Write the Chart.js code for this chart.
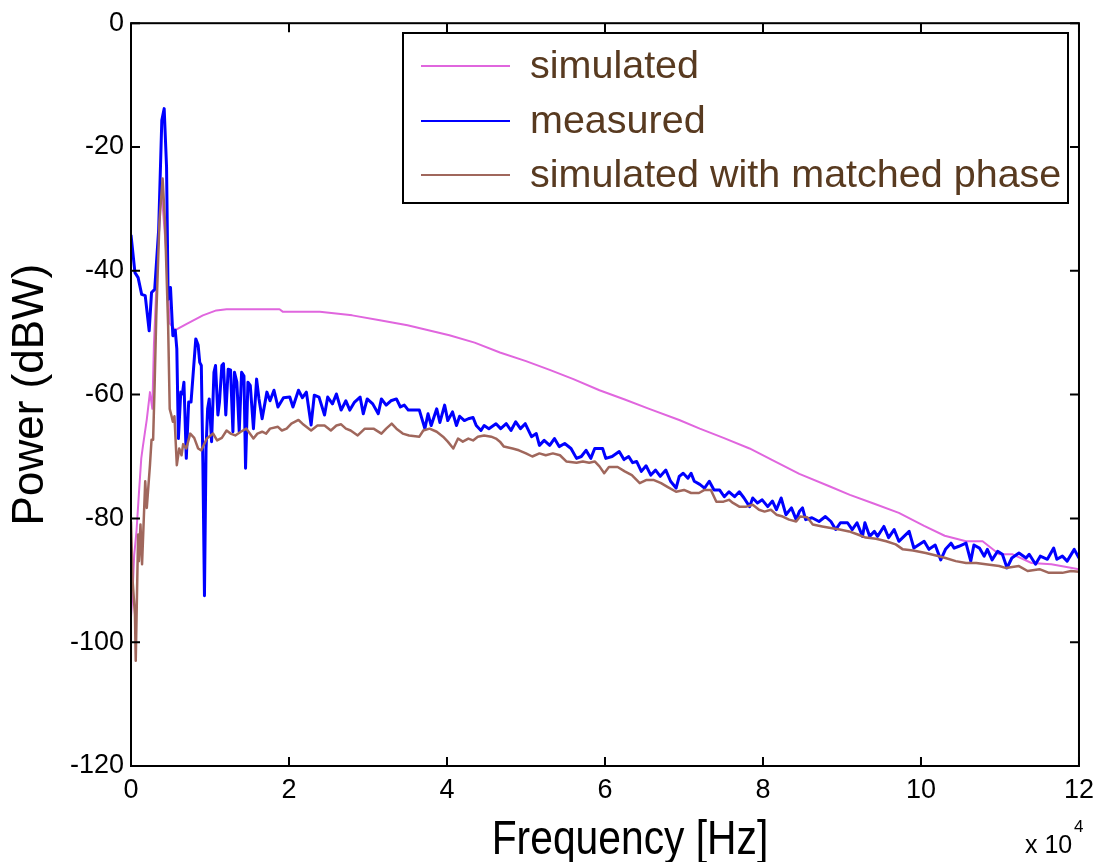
<!DOCTYPE html>
<html>
<head>
<meta charset="utf-8">
<script src="https://cdn.jsdelivr.net/npm/chart.js@4.4.1/dist/chart.umd.min.js"></script>
<style>
  html, body { margin: 0; padding: 0; background: #fff; }
  #wrap { width: 1102px; height: 862px; }
</style>
</head>
<body>
<div id="wrap"><canvas id="chart" width="1102" height="862"></canvas></div>
<script>
// frequency in units of 1e4 Hz, power in dBW
const simX = [0.00, 0.02, 0.04, 0.07, 0.10, 0.13, 0.15, 0.20, 0.24, 0.27, 0.29, 0.33, 0.38, 0.44, 0.49,
  0.56, 0.70, 0.91, 1.08, 1.21, 1.88, 1.92, 2.39, 2.80, 3.15, 3.50, 4.03, 4.35, 4.67, 5.00,
  5.30, 5.60, 5.93, 6.25, 6.56, 6.94, 7.20, 7.50, 7.83, 8.15, 8.46, 8.84, 9.10, 9.40, 9.72,
  10.04, 10.30, 10.57, 10.78, 10.99, 11.16, 11.40, 11.65, 12.00];
const simY = [-96, -92, -86, -82, -76, -70.3, -68.4, -64, -59.6, -62.3, -52, -40, -26, -36, -48.5,
  -49.6, -48.6, -47.2, -46.4, -46.2, -46.2, -46.6, -46.6, -47.2, -48.0, -48.8, -50.4, -51.6, -53.2, -54.6,
  -56.0, -57.5, -59.3, -60.8, -62.3, -64.1, -65.5, -67.0, -68.7, -70.8, -72.8, -74.8, -76.2, -77.6, -79.1,
  -81.2, -82.8, -83.7, -83.7, -85.8, -85.8, -87.2, -87.4, -88.2];

const measX = [0.00, 0.05, 0.09, 0.135, 0.18, 0.23, 0.26, 0.30, 0.35, 0.39, 0.42, 0.45, 0.47, 0.50, 0.53,
  0.56, 0.58, 0.60, 0.63, 0.65, 0.67, 0.70, 0.73, 0.76, 0.82, 0.85, 0.87, 0.89, 0.91, 0.93,
  0.95, 0.97, 0.99, 1.02, 1.05, 1.07, 1.10, 1.12, 1.15, 1.17, 1.20, 1.23, 1.26, 1.29, 1.31,
  1.34, 1.37, 1.40, 1.43, 1.45, 1.48, 1.51, 1.55, 1.59, 1.62, 1.66, 1.72, 1.76, 1.81, 1.86,
  1.93, 2.01, 2.05, 2.12, 2.17, 2.22, 2.28, 2.32, 2.38, 2.45, 2.49, 2.55, 2.60, 2.66, 2.72,
  2.77, 2.83, 2.90, 2.94, 2.99, 3.06, 3.13, 3.17, 3.23, 3.29, 3.36, 3.41, 3.46, 3.51, 3.65,
  3.72, 3.76, 3.80, 3.87, 3.91, 3.97, 4.01, 4.07, 4.12, 4.16, 4.22, 4.27, 4.33, 4.37, 4.43,
  4.47, 4.53, 4.62, 4.68, 4.75, 4.81, 4.87, 4.93, 4.99, 5.07, 5.13, 5.17, 5.23, 5.30, 5.36,
  5.42, 5.49, 5.57, 5.64, 5.70, 5.76, 5.82, 5.87, 5.97, 6.01, 6.09, 6.18, 6.24, 6.30, 6.35,
  6.40, 6.46, 6.52, 6.58, 6.64, 6.70, 6.77, 6.83, 6.90, 6.94, 6.99, 7.05, 7.09, 7.13, 7.20,
  7.26, 7.32, 7.38, 7.45, 7.51, 7.57, 7.64, 7.70, 7.76, 7.83, 7.87, 7.93, 7.99, 8.06, 8.12,
  8.17, 8.23, 8.29, 8.36, 8.42, 8.46, 8.50, 8.54, 8.62, 8.71, 8.79, 8.86, 8.92, 8.98, 9.07,
  9.13, 9.19, 9.26, 9.29, 9.35, 9.41, 9.45, 9.53, 9.59, 9.66, 9.72, 9.85, 9.91, 10.04, 10.10,
  10.18, 10.25, 10.31, 10.38, 10.42, 10.48, 10.57, 10.63, 10.67, 10.74, 10.80, 10.84, 10.90, 10.97, 11.03,
  11.09, 11.15, 11.24, 11.33, 11.37, 11.45, 11.51, 11.60, 11.68, 11.72, 11.79, 11.85, 11.94, 12.00];
const measY = [-34.2, -40.3, -41.1, -43.8, -44.0, -49.7, -43.5, -43.0, -33.4, -15.7, -13.8, -23.2, -44.6, -42.7, -50.5,
  -49.6, -52.6, -67.1, -59.6, -59.9, -58.0, -70.3, -61.2, -61.2, -51.0, -52.0, -54.8, -55.3, -71.3, -92.5,
  -68.7, -62.3, -60.7, -67.6, -56.4, -55.3, -63.3, -61.2, -55.3, -55.0, -63.3, -55.9, -56.0, -66.0, -56.4,
  -58.0, -66.0, -56.4, -57.0, -71.9, -58.0, -58.5, -65.5, -57.5, -60.7, -63.9, -59.6, -61.0, -59.3, -62.0,
  -60.5, -60.4, -62.0, -59.3, -60.5, -59.6, -64.9, -60.1, -60.4, -63.3, -60.4, -61.5, -59.9, -62.5, -61.0,
  -62.5, -61.2, -60.4, -63.1, -60.7, -61.5, -63.1, -60.7, -61.7, -61.0, -60.7, -62.0, -61.7, -62.5, -62.5,
  -65.5, -63.1, -65.0, -62.3, -64.5, -61.7, -64.2, -62.8, -65.0, -63.5, -64.2, -63.9, -63.7, -65.0, -65.8,
  -65.0, -65.5, -64.7, -65.5, -64.7, -65.8, -64.4, -65.5, -64.7, -66.8, -66.3, -68.2, -67.4, -68.2, -67.1,
  -68.4, -67.9, -68.7, -70.3, -70.0, -69.0, -70.3, -68.7, -68.7, -70.3, -70.0, -69.2, -70.5, -70.0, -71.0,
  -70.8, -72.4, -71.5, -73.0, -72.2, -73.2, -72.2, -74.0, -75.1, -73.2, -72.7, -73.5, -72.7, -74.0, -74.5,
  -75.1, -74.0, -75.4, -75.4, -76.5, -75.7, -76.5, -75.7, -76.7, -78.1, -76.7, -77.5, -77.0, -78.1, -77.2,
  -78.6, -76.7, -79.4, -78.3, -80.2, -78.9, -78.3, -80.2, -79.9, -80.5, -79.7, -80.5, -81.8, -80.7, -80.7,
  -81.8, -80.7, -82.9, -80.7, -82.9, -82.1, -82.9, -81.3, -83.1, -81.8, -83.7, -82.1, -84.8, -83.7, -85.0,
  -84.3, -86.7, -85.0, -84.0, -84.8, -84.5, -84.0, -86.9, -84.3, -84.8, -86.1, -85.0, -86.7, -85.3, -85.8,
  -88.0, -86.4, -85.6, -86.4, -85.8, -87.4, -86.1, -86.6, -84.8, -86.6, -86.1, -86.9, -85.0, -86.4];

const matchX = [0.00, 0.02, 0.05, 0.06, 0.09, 0.10, 0.12, 0.14, 0.18, 0.20, 0.24, 0.26, 0.28, 0.30, 0.32,
  0.36, 0.40, 0.43, 0.47, 0.49, 0.51, 0.53, 0.55, 0.58, 0.61, 0.64, 0.66, 0.70, 0.75, 0.80,
  0.85, 0.89, 0.96, 1.04, 1.09, 1.15, 1.21, 1.26, 1.32, 1.39, 1.46, 1.55, 1.60, 1.66, 1.71,
  1.76, 1.86, 1.91, 1.97, 2.03, 2.12, 2.17, 2.28, 2.36, 2.45, 2.53, 2.60, 2.66, 2.72, 2.78,
  2.87, 2.96, 3.07, 3.17, 3.23, 3.30, 3.36, 3.44, 3.52, 3.65, 3.70, 3.78, 3.87, 3.95, 4.01,
  4.08, 4.14, 4.20, 4.27, 4.33, 4.39, 4.47, 4.56, 4.62, 4.67, 4.72, 4.83, 4.91, 5.00, 5.08,
  5.17, 5.25, 5.34, 5.43, 5.51, 5.64, 5.72, 5.80, 5.87, 5.93, 5.99, 6.05, 6.16, 6.25, 6.34,
  6.44, 6.52, 6.62, 6.71, 6.79, 6.90, 7.00, 7.09, 7.19, 7.26, 7.34, 7.41, 7.50, 7.57, 7.62,
  7.70, 7.79, 7.87, 7.95, 8.02, 8.10, 8.17, 8.25, 8.33, 8.42, 8.47, 8.56, 8.63, 8.75, 8.84,
  8.97, 9.09, 9.20, 9.30, 9.43, 9.56, 9.68, 9.77, 9.90, 10.06, 10.19, 10.31, 10.44, 10.57, 10.70,
  10.82, 10.99, 11.07, 11.24, 11.35, 11.50, 11.62, 11.79, 11.90, 12.00];
const matchY = [-80.5, -90, -95.5, -103, -82.6, -86.9, -81, -87.4, -74, -78.3, -71.4, -67.3, -67.3, -58, -47.3,
  -32, -25.1, -32, -48.9, -62.3, -63.3, -64.4, -63.5, -71.4, -68.7, -69.8, -68.0, -68.7, -66.3, -67.0,
  -68.7, -69.0, -67.1, -66.3, -67.4, -67.0, -65.8, -66.3, -66.6, -66.0, -65.5, -67.1, -66.3, -66.0, -66.3,
  -65.5, -65.2, -65.8, -65.5, -64.7, -64.1, -64.7, -65.8, -65.0, -65.0, -65.8, -65.0, -64.8, -65.5, -65.8,
  -66.6, -65.5, -65.5, -66.3, -65.5, -64.7, -65.5, -66.3, -66.6, -66.8, -65.8, -65.5, -66.0, -66.8, -67.6,
  -68.7, -67.1, -67.6, -67.1, -67.4, -66.8, -66.6, -66.8, -67.1, -67.6, -68.4, -68.7, -69.0, -69.5, -70.0,
  -69.5, -69.8, -69.5, -69.8, -70.8, -71.0, -70.8, -71.0, -70.8, -71.6, -72.7, -71.7, -71.7, -72.4, -73.0,
  -74.3, -73.8, -73.8, -74.3, -74.9, -75.7, -75.4, -75.9, -75.9, -75.4, -75.4, -77.3, -77.3, -77.0, -77.5,
  -78.1, -78.1, -77.8, -78.6, -78.9, -78.6, -79.4, -79.7, -80.2, -80.5, -79.7, -79.8, -81.0, -81.3, -81.5,
  -81.8, -82.1, -82.6, -83.1, -83.3, -83.7, -84.2, -85.0, -85.2, -85.6, -86.0, -86.4, -86.9, -87.2, -87.2,
  -87.4, -87.7, -88.0, -87.7, -88.5, -88.2, -88.8, -88.8, -88.5, -88.6];

const seriesNames = ["simulated", "measured", "simulated with matched phase"];
const seriesColors = ["#e066de", "#0000ff", "#a0675c"];
const xTicks = [0, 2, 4, 6, 8, 10, 12];
const yTicks = [-120, -100, -80, -60, -40, -20, 0];

const FONT = "'Liberation Sans', Arial, sans-serif";

function pts(xs, ys) {
  return xs.map((x, i) => ({ x: x, y: ys[i] }));
}

// box around plot with inward ticks, legend box, x title and the x 10^4 multiplier
const matlabFrame = {
  id: "matlabFrame",
  afterDatasetsDraw(chart) {
    const { ctx, chartArea: a, scales } = chart;
    ctx.save();
    ctx.strokeStyle = "#000";
    ctx.lineWidth = 2;
    ctx.strokeRect(a.left, a.top, a.right - a.left, a.bottom - a.top);
    const len = 9;
    ctx.beginPath();
    xTicks.forEach((t) => {
      const px = scales.x.getPixelForValue(t);
      ctx.moveTo(px, a.bottom); ctx.lineTo(px, a.bottom - len);
      ctx.moveTo(px, a.top); ctx.lineTo(px, a.top + len);
    });
    yTicks.forEach((t) => {
      const py = scales.y.getPixelForValue(t);
      ctx.moveTo(a.left, py); ctx.lineTo(a.left + len, py);
      ctx.moveTo(a.right, py); ctx.lineTo(a.right - len, py);
    });
    ctx.stroke();

    // legend
    const lx = 403, ly = 33, lw = 665, lh = 170;
    ctx.fillStyle = "#fff";
    ctx.fillRect(lx, ly, lw, lh);
    ctx.lineWidth = 2;
    ctx.strokeRect(lx, ly, lw, lh);
    const rows = [66, 121, 175];
    ctx.font = "39.5px " + FONT;
    ctx.textBaseline = "middle";
    ctx.textAlign = "left";
    seriesNames.forEach((name, i) => {
      ctx.strokeStyle = seriesColors[i];
      ctx.lineWidth = 2;
      ctx.beginPath();
      ctx.moveTo(421, rows[i]);
      ctx.lineTo(510, rows[i]);
      ctx.stroke();
      ctx.fillStyle = "#583a20";
      ctx.fillText(name, 530, rows[i] + 1);
    });

    // x axis title (slightly condensed, as in the original export)
    ctx.fillStyle = "#000";
    ctx.textBaseline = "alphabetic";
    ctx.save();
    ctx.translate(630, 854);
    ctx.scale(0.85, 1);
    ctx.textAlign = "center";
    ctx.font = "48px " + FONT;
    ctx.fillText("Frequency [Hz]", 0, 0);
    ctx.restore();

    // axis multiplier
    ctx.textAlign = "left";
    ctx.font = "25px " + FONT;
    ctx.fillText("x 10", 1025, 853);
    ctx.font = "17px " + FONT;
    ctx.fillText("4", 1074, 832);
    ctx.restore();
  }
};

new Chart(document.getElementById("chart"), {
  type: "line",
  data: {
    datasets: [
      { label: seriesNames[0], data: pts(simX, simY), borderColor: seriesColors[0], borderWidth: 2, order: 3 },
      { label: seriesNames[1], data: pts(measX, measY), borderColor: seriesColors[1], borderWidth: 3, order: 2 },
      { label: seriesNames[2], data: pts(matchX, matchY), borderColor: seriesColors[2], borderWidth: 2.5, order: 1 },
    ],
  },
  options: {
    responsive: false,
    animation: false,
    parsing: false,
    elements: { point: { radius: 0 }, line: { tension: 0, borderJoinStyle: "round" } },
    layout: { padding: { left: 0, top: 19, right: 22, bottom: 0 } },
    plugins: { legend: { display: false }, tooltip: { enabled: false } },
    scales: {
      x: {
        type: "linear",
        min: 0,
        max: 12,
        afterBuildTicks: (s) => { s.ticks = xTicks.map((v) => ({ value: v })); },
        afterFit: (s) => { s.height = 96; },
        ticks: { color: "#000", font: { family: FONT, size: 27 }, padding: 8, maxRotation: 0, autoSkip: false },
        grid: { display: false, drawTicks: false },
        border: { display: false },
        title: { display: false },
      },
      y: {
        type: "linear",
        min: -120,
        max: 0,
        afterBuildTicks: (s) => { s.ticks = yTicks.map((v) => ({ value: v })); },
        afterFit: (s) => { s.width = 131; },
        ticks: { color: "#000", font: { family: FONT, size: 27 }, padding: 7, autoSkip: false },
        grid: { display: false, drawTicks: false },
        border: { display: false },
        title: { display: true, text: "Power (dBW)", color: "#000", font: { family: FONT, size: 44 }, padding: { top: 4, bottom: 4 } },
      },
    },
  },
  plugins: [matlabFrame],
});
</script>
</body>
</html>
